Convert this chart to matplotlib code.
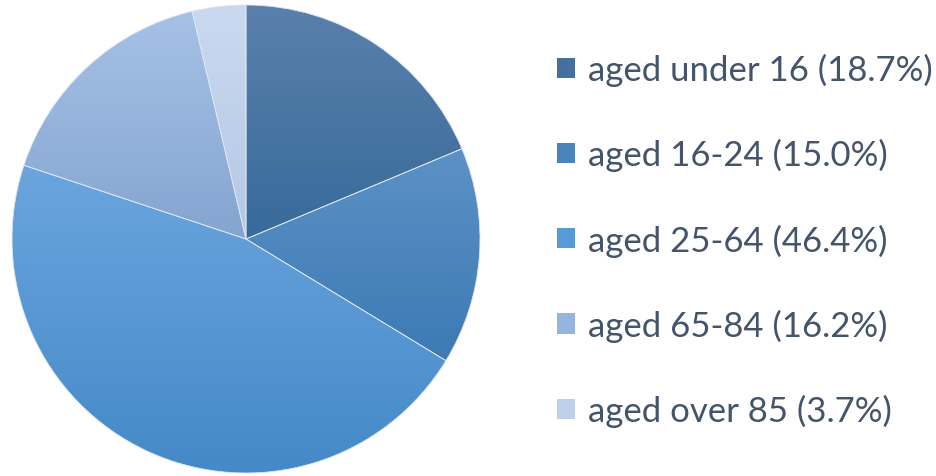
import numpy as np
import matplotlib
matplotlib.use("Agg")
import matplotlib.pyplot as plt
from matplotlib.colors import LinearSegmentedColormap

# data
labels = ["aged under 16", "aged 16-24", "aged 25-64", "aged 65-84", "aged over 85"]
shares = [18.7, 15.0, 46.4, 16.2, 3.7]
# colours per slice: top of gradient, bottom of gradient
top_cols = ["#5a80ac", "#5c91c5", "#6ba5de", "#a6c1e6", "#cad9ef"]
bot_cols = ["#376a9a", "#3c7ab4", "#4489c8", "#84a5d1", "#b3c8e4"]
mid_cols = ["#466f9f", "#4a84bd", "#579ad6", "#95b4de", "#bfd0ea"]

fig = plt.figure(figsize=(9.36, 4.77), dpi=100)
ax = fig.add_axes([12/936, 3/477, 468/936, 468/477])

wedges, _ = ax.pie(shares, colors=mid_cols, startangle=90, counterclock=False,
                   wedgeprops=dict(edgecolor="#dce6f2", linewidth=0.6))

# vertical gradient inside each wedge
grad = np.linspace(0, 1, 256).reshape(-1, 1)
for w, c1, c2 in zip(wedges, top_cols, bot_cols):
    bb = w.get_path().get_extents()
    cmap = LinearSegmentedColormap.from_list("g", [c1, c2])
    im = ax.imshow(grad, cmap=cmap, aspect="auto",
                   extent=(bb.x0, bb.x1, bb.y0, bb.y1), origin="upper",
                   zorder=1.5)
    im.set_clip_path(w)
for w in wedges:
    w.set_zorder(2)
    w.set_facecolor("none")
ax.set_xlim(-1, 1)
ax.set_ylim(-1, 1)
ax.set_aspect("equal")

# legend
leg_labels = ["%s (%.1f%%)" % (l, s) for l, s in zip(labels, shares)]
handles = [plt.Rectangle((0, 0), 1, 1, facecolor=c) for c in mid_cols]
leg = fig.legend(handles, leg_labels, loc="upper left",
                 bbox_to_anchor=(557/936, 1 - 54/477), frameon=False,
                 prop=dict(family="Lato", size=25), labelcolor="#44546a",
                 handlelength=0.52, handleheight=0.52, handletextpad=0.37,
                 labelspacing=1.5, borderpad=0, borderaxespad=0)

fig.savefig("out.png", dpi=100)
